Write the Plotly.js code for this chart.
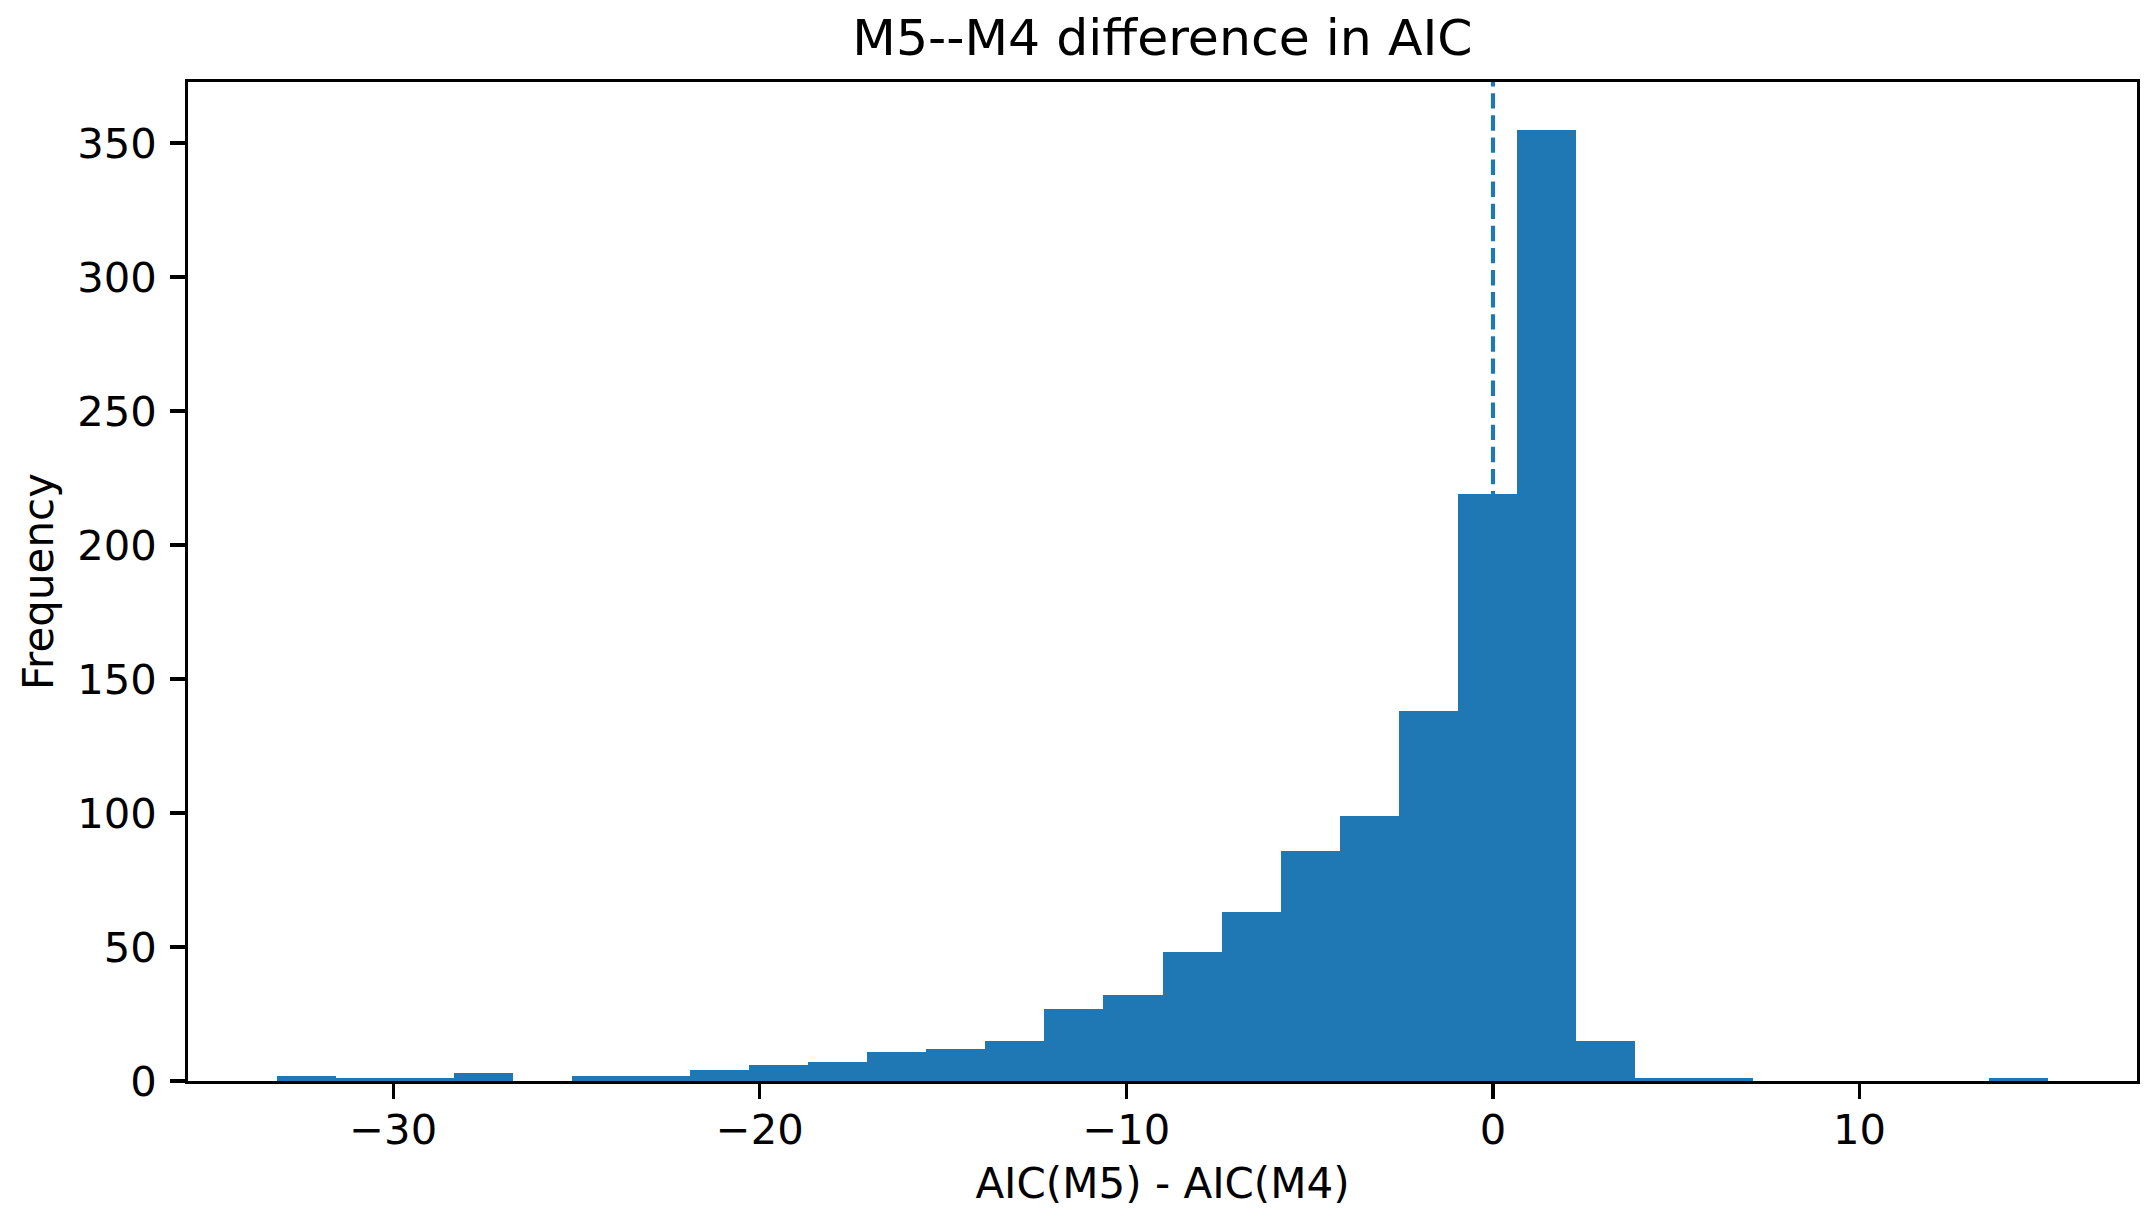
<!DOCTYPE html>
<html>
<head>
<meta charset="utf-8">
<script src="https://cdn.plot.ly/plotly-3.0.1.min.js"></script>
<style>html,body{margin:0;padding:0;background:#fff;}#chart{width:2155px;height:1229px;}</style>
</head>
<body>
<div id="chart"></div>
<script>
// Histogram of AIC(M5) - AIC(M4): 30 equal-width bins
const binStart = -33.18;
const binEnd = 15.15;
const binCount = 30;
const counts = [2, 1, 1, 3, 0, 2, 2, 4, 6, 7, 11, 12, 15, 27, 32, 48, 63, 86, 99, 138, 219, 355, 15, 1, 1, 0, 0, 0, 0, 1];
const refLine = 0;
const xTickVals = [-30, -20, -10, 0, 10];
const yTickVals = [0, 50, 100, 150, 200, 250, 300, 350];
const titleText = "M5--M4 difference in AIC";
const xLabel = "AIC(M5) - AIC(M4)";
const yLabel = "Frequency";

const binWidth = (binEnd - binStart) / binCount;
const centers = counts.map((_, i) => binStart + (i + 0.5) * binWidth);
const span = binEnd - binStart;
const xRange = [binStart - 0.05 * span, binEnd + 0.05 * span];
const yRange = [0, 1.05 * Math.max(...counts)];

const blue = "#1f77b4";
const font = "DejaVu Sans, Liberation Sans, sans-serif";

const trace = {
  type: "bar",
  x: centers,
  y: counts,
  width: counts.map(() => binWidth),
  marker: {color: blue, line: {width: 0}},
  hoverinfo: "skip"
};

const axisCommon = {
  showgrid: false,
  zeroline: false,
  showline: true,
  linecolor: "#000",
  linewidth: 3.3,
  mirror: true,
  ticks: "outside",
  ticklen: 14.6,
  tickwidth: 3.3,
  tickcolor: "#000",
  tickfont: {family: font, size: 41.7, color: "#000"}
};

const layout = {
  width: 2155,
  height: 1229,
  paper_bgcolor: "#fff",
  plot_bgcolor: "#fff",
  showlegend: false,
  bargap: 0,
  margin: {l: 188, r: 18, t: 82, b: 148, autoexpand: false},
  font: {family: font, color: "#000"},
  title: {
    text: titleText,
    font: {family: font, size: 50.5, color: "#000"},
    x: 0.5, xref: "paper", xanchor: "center",
    y: 1, yref: "paper", yanchor: "bottom",
    pad: {b: 27}
  },
  xaxis: Object.assign({}, axisCommon, {
    range: xRange,
    tickvals: xTickVals,
    ticklabelstandoff: -5,
    title: {text: xLabel, font: {family: font, size: 42, color: "#000"}, standoff: 16}
  }),
  yaxis: Object.assign({}, axisCommon, {
    range: yRange,
    tickvals: yTickVals,
    ticklabelstandoff: 5,
    title: {text: yLabel, font: {family: font, size: 42, color: "#000"}, standoff: 11}
  }),
  shapes: [{
    type: "line",
    layer: "below",
    xref: "x", yref: "paper",
    x0: refLine, x1: refLine, y0: 0, y1: 1,
    line: {color: blue, width: 4.17, dash: "15.4px,6.7px"}
  }]
};

Plotly.newPlot("chart", [trace], layout, {displayModeBar: false, staticPlot: true});
</script>
</body>
</html>
